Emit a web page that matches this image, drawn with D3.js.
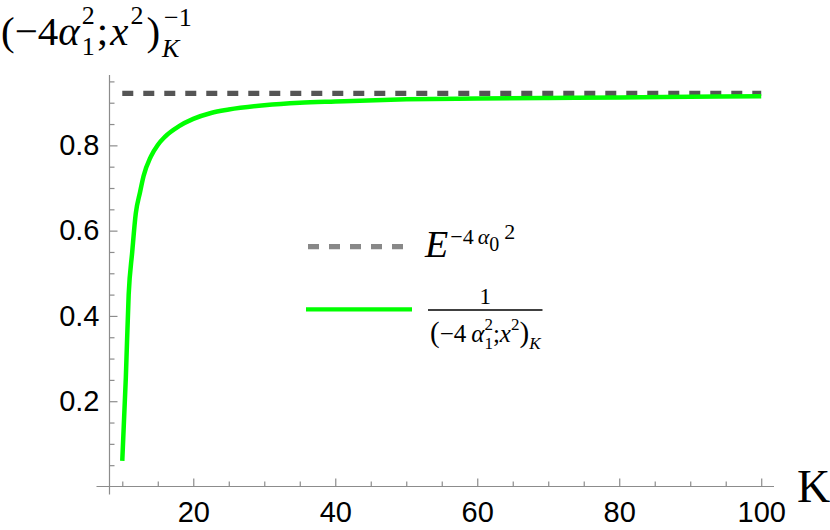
<!DOCTYPE html>
<html>
<head>
<meta charset="utf-8">
<script src="https://cdn.jsdelivr.net/npm/d3@7"></script>
<style>
body { margin: 0; background: #fff; }
</style>
</head>
<body>
<div id="chart"></div>
<script>
// values
const kValues = [10, 10.5, 10.9, 11.4, 11.9, 12.5, 13, 14, 15, 16, 18, 20, 22.5, 25, 30, 35, 40, 50, 60, 70, 80, 90, 100];
const invPochhammer = [0.06, 0.255, 0.45, 0.55, 0.64, 0.69, 0.728, 0.773, 0.801, 0.820, 0.845, 0.862, 0.876, 0.884, 0.894, 0.900, 0.903, 0.908, 0.910, 0.911, 0.9125, 0.914, 0.915];
const limitValue = 0.922;      // E^(-4 a0^2)
const limitRange = [10, 100];
const xTickLabels = [20, 40, 60, 80, 100];
const yTickLabels = [0.2, 0.4, 0.6, 0.8];

const width = 830, height = 530;
const axisColor = "#8c8c8c";

var svg = d3.select("#chart").append("svg")
	.attr("width", width)
	.attr("height", height);

var x = d3.scaleLinear().domain([8.2, 101.8]).range([109.5, 774]);
var y = d3.scaleLinear().domain([0, 0.965]).range([486.5, 75]);

// minor ticks every 5 on K, every 0.05 on y
var xMinor = d3.range(10, 100, 5).filter(d => xTickLabels.indexOf(d) < 0);
var yMinor = d3.range(1, 20).map(d => d * 0.05).filter(d => d % 0.2 > 0.01 && d % 0.2 < 0.19);

// axis lines (Mathematica style, crossing a bit)
svg.append("line")
	.attr("x1", x.range()[0] - 13).attr("x2", x.range()[1])
	.attr("y1", y(0)).attr("y2", y(0))
	.style("stroke", axisColor).style("stroke-width", 1.2);
svg.append("line")
	.attr("x1", x.range()[0]).attr("x2", x.range()[0])
	.attr("y1", y.range()[1]).attr("y2", y(0) + 8)
	.style("stroke", axisColor).style("stroke-width", 1.2);

function styleAxis(g) {
	g.select(".domain").remove();
	g.selectAll(".tick line").style("stroke", axisColor).style("stroke-width", 1.2);
	g.selectAll("text")
		.style("font-family", "Liberation Sans, Arial, sans-serif")
		.style("font-size", "29px")
		.style("fill", "#000");
}

svg.append("g")
	.attr("transform", "translate(0," + y(0) + ")")
	.call(d3.axisBottom(x).tickValues(xTickLabels).tickSize(-8).tickPadding(15).tickFormat(d3.format("d")))
	.call(styleAxis);
svg.append("g")
	.attr("transform", "translate(0," + y(0) + ")")
	.call(d3.axisBottom(x).tickValues(xMinor).tickSize(-5).tickFormat(""))
	.call(styleAxis);

svg.append("g")
	.attr("transform", "translate(" + x.range()[0] + ",0)")
	.call(d3.axisLeft(y).tickValues(yTickLabels).tickSize(-8).tickPadding(10).tickFormat(d3.format(".1f")))
	.call(styleAxis);
svg.append("g")
	.attr("transform", "translate(" + x.range()[0] + ",0)")
	.call(d3.axisLeft(y).tickValues(yMinor).tickSize(-5).tickFormat(""))
	.call(styleAxis);

// limit line
svg.append("line")
	.attr("x1", x(limitRange[0])).attr("x2", x(limitRange[1]))
	.attr("y1", y(limitValue)).attr("y2", y(limitValue))
	.style("stroke", "#555")
	.style("stroke-width", 5.3)
	.style("stroke-dasharray", "11,10");

// the curve
var line = d3.line()
	.x((d, i) => x(kValues[i]))
	.y(d => y(d))
	.curve(d3.curveMonotoneX);

svg.append("path")
	.attr("d", line(invPochhammer))
	.style("fill", "none")
	.style("stroke", "#00ff00")
	.style("stroke-width", 4.5)
	.style("stroke-linejoin", "round");

// axis label K
svg.append("text")
	.attr("x", 797).attr("y", 501.5)
	.style("font-family", "Liberation Serif, Times New Roman, serif")
	.style("font-size", "46px")
	.text("K");

// draws a run of math pieces, a piece with stack:true shares x with the next one
function mathRun(x0, y0, pieces) {
	var cx = x0, stackW = 0;
	pieces.forEach(p => {
		var t = svg.append("text")
			.attr("x", cx + (p.dx || 0))
			.attr("y", y0 + (p.dy || 0))
			.style("font-family", "Liberation Serif, Times New Roman, serif")
			.style("font-size", p.s + "px")
			.style("font-style", p.it ? "italic" : "normal")
			.text(p.t);
		var w = t.node().getComputedTextLength() + (p.dx || 0);
		if (p.stack) {
			stackW = Math.max(stackW, w);
		} else {
			cx += Math.max(w, stackW);
			stackW = 0;
		}
	});
	return cx;
}

// y axis label (-4 a1^2; x^2)_K^-1
mathRun(1, 45, [
	{t: "(", s: 41},
	{t: "\u22124", s: 41},
	{t: "\u03b1", s: 41, it: true},
	{t: "2", s: 26, dy: -21, dx: 2, stack: true},
	{t: "1", s: 26, dy: 10, dx: 2},
	{t: ";", s: 41, dx: 2},
	{t: "x", s: 41, dx: 2, it: true},
	{t: "2", s: 26, dy: -21, dx: 2},
	{t: ")", s: 41, dx: 3},
	{t: "\u22121", s: 26, dy: -19, dx: 4, stack: true},
	{t: "K", s: 26, dy: 12, dx: 2, it: true}
]);

// legend
svg.append("line")
	.attr("x1", 308).attr("x2", 403)
	.attr("y1", 246.7).attr("y2", 246.7)
	.style("stroke", "#888")
	.style("stroke-width", 5.3)
	.style("stroke-dasharray", "11,10");

mathRun(425, 257, [
	{t: "E", s: 38, it: true},
	{t: "\u22124", s: 22, dy: -13, dx: 2},
	{t: "\u03b1", s: 22, dy: -13, dx: 4, it: true},
	{t: "0", s: 20, dy: -6},
	{t: "2", s: 22, dy: -18, dx: 5}
]);

svg.append("line")
	.attr("x1", 306).attr("x2", 412)
	.attr("y1", 309.3).attr("y2", 309.3)
	.style("stroke", "#00ff00")
	.style("stroke-width", 4.3);

var denEnd = mathRun(430, 342, [
	{t: "(", s: 29},
	{t: "\u22124", s: 25},
	{t: "\u03b1", s: 25, dx: 5, it: true},
	{t: "2", s: 17, dy: -12, stack: true},
	{t: "1", s: 17, dy: 7},
	{t: ";", s: 25},
	{t: "x", s: 25, it: true},
	{t: "2", s: 17, dy: -12},
	{t: ")", s: 29},
	{t: "K", s: 17, dy: 7, it: true}
]);
svg.append("line")
	.attr("x1", 428).attr("x2", denEnd + 2)
	.attr("y1", 310).attr("y2", 310)
	.style("stroke", "#000")
	.style("stroke-width", 1.3);
svg.append("text")
	.attr("x", (428 + denEnd + 2) / 2).attr("y", 303.5)
	.style("font-family", "Liberation Serif, Times New Roman, serif")
	.style("font-size", "23px")
	.style("text-anchor", "middle")
	.text("1");
</script>
</body>
</html>
